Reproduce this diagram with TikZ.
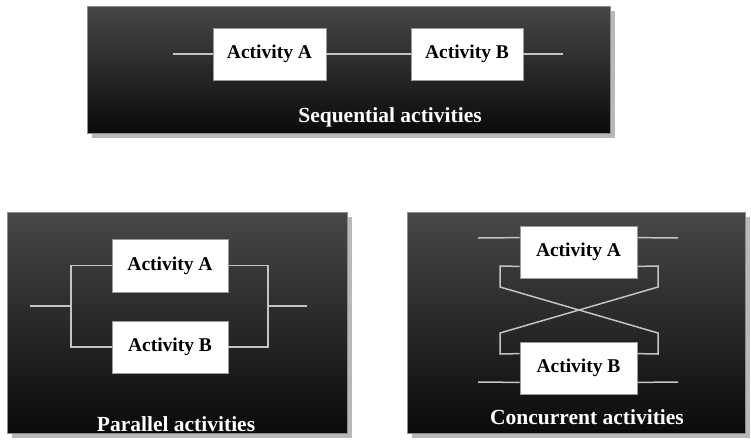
\documentclass[tikz,border=0pt]{standalone}
\usepackage{fontspec}
\setmainfont{Liberation Serif}
\usetikzlibrary{calc}
\definecolor{wirecol}{HTML}{C4C4C4}
\definecolor{shadowcol}{HTML}{B8B8B8}
\tikzset{
  panel/.style={draw=black!45, line width=0.8pt, top color=black!72, bottom color=black!96,
                inner sep=0pt, minimum width=#1},
  panelshadow/.style={fill=shadowcol},
  actbox/.style={draw=black!40, fill=white, line width=0.8pt, inner sep=0pt,
                 minimum width=114pt, minimum height=52pt,
                 font=\fontsize{19.5}{22}\selectfont\bfseries},
  caption/.style={text=white, font=\fontsize{21.5}{24}\selectfont\bfseries},
  wire/.style={draw=wirecol, line width=1.5pt}
}
\begin{document}
\begin{tikzpicture}[x=1pt,y=-1pt]
\useasboundingbox[fill=white] (0,0) rectangle (751,445);

% ---- panel backgrounds with soft grey shadows
\fill[panelshadow] (92,11) rectangle (615,138);
\fill[panelshadow] (12,217) rectangle (352,438);
\fill[panelshadow] (412,217) rectangle (750,438);
\node[panel=523pt, minimum height=127pt] (p1) at (348.5,69.5) {};
\node[panel=340pt, minimum height=221pt] (p2) at (177,322.5) {};
\node[panel=338pt, minimum height=221pt] (p3) at (576,322.5) {};

% ---- sequential activities
\node[actbox, minimum width=113pt] (sa) at (269.5,54) {Activity A};
\node[actbox, minimum width=112pt] (sb) at (467,54) {Activity B};
\coordinate (sin) at (173,54);
\coordinate (sout) at (563,54);
\draw[wire] (sin) -- (sa.west);
\draw[wire] (sa.east) -- (sb.west);
\draw[wire] (sb.east) -- (sout);
\node[caption] (c1) at (390,117) {Sequential activities};

% ---- parallel activities
\node[actbox, minimum width=116pt, minimum height=53pt] (pa) at (170,265.5) {Activity A};
\node[actbox, minimum width=116pt, minimum height=52pt] (pb) at (170,347) {Activity B};
\coordinate (pin) at (30,306);
\coordinate (pl) at (71,306);
\coordinate (pr) at (268,306);
\coordinate (pout) at (307,306);
\draw[wire] (pin) -- (pl);
\draw[wire] (pa.west) -| (pl) |- (pb.west);
\draw[wire] (pa.east) -| (pr) |- (pb.east);
\draw[wire] (pr) -- (pout);
\node[caption] (c2) at (176,424) {Parallel activities};

% ---- concurrent activities
\node[actbox, minimum width=117pt] (ca) at (578.5,252) {Activity A};
\node[actbox, minimum width=117pt] (cb) at (578.5,368) {Activity B};
\coordinate (a1l) at ($(ca.north west)+(0,12)$);
\coordinate (a1r) at ($(ca.north east)+(0,12)$);
\coordinate (a2l) at ($(ca.south west)+(0,-12)$);
\coordinate (a2r) at ($(ca.south east)+(0,-12)$);
\coordinate (b1l) at ($(cb.north west)+(0,12)$);
\coordinate (b1r) at ($(cb.north east)+(0,12)$);
\coordinate (b2l) at ($(cb.south west)+(0,-12)$);
\coordinate (b2r) at ($(cb.south east)+(0,-12)$);
\coordinate (ain) at (478,238);
\coordinate (aout) at (678,238);
\coordinate (bin) at (478,382);
\coordinate (bout) at (678,382);
\draw[wire] (ain) -- (a1l);
\draw[wire] (a1r) -- (aout);
\draw[wire] (bin) -- (b2l);
\draw[wire] (b2r) -- (bout);
\draw[wire] (a2l) -- (500,266) -- (500,287) -- (658,333) -- (658,354) -- (b1r);
\draw[wire] (a2r) -- (658,266) -- (658,287) -- (500,333) -- (500,354) -- (b1l);
\node[caption] (c3) at (587,417) {Concurrent activities};
\end{tikzpicture}
\end{document}
